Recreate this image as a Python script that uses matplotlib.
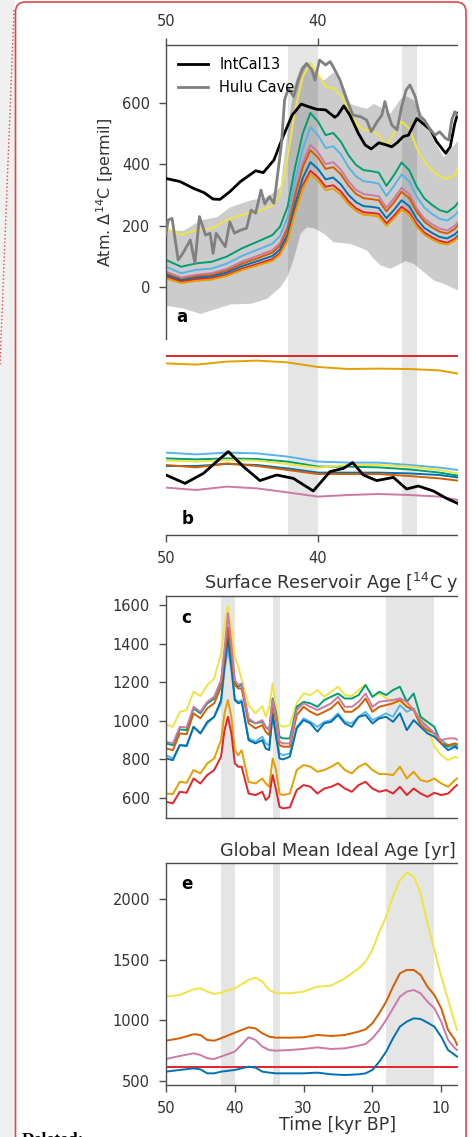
import numpy as np
import matplotlib
matplotlib.use('Agg')
import matplotlib.pyplot as plt
from matplotlib.patches import Rectangle, FancyBboxPatch
from matplotlib.lines import Line2D
from matplotlib.transforms import IdentityTransform

## couleurs des experiences

C_YEL = '#f0e442'
C_GRN = '#009e73'
C_SKY = '#56b4e9'
C_PNK = '#cc79a7'
C_VER = '#d55e00'
C_BLU = '#0072b2'
C_RED = '#e3242b'
C_ORA = '#e69f00'

# periodes grisees (kyr BP)
bands_ab = [(42, 40), (34.5, 33.5)]
bands_ce = [(42, 40), (34.5, 33.5), (18, 11)]

#################################################################################
#
#  panneau a : Delta14C atmospherique

x_intcal = [50.0, 49.08, 48.2, 47.5, 46.9, 46.45, 45.8, 45.1, 44.1, 43.6, 42.9, 42.3, 41.7, 41.1,
            40.6, 40.1, 39.5, 38.9, 38.7, 38.3, 37.9, 37.35, 36.9, 36.5, 36.0, 35.5, 35.15, 34.8,
            34.4, 34.05, 33.5, 33.1, 32.6, 32.2, 31.6, 31.3, 31.0, 30.8]
intcal = [353, 343, 321, 307, 286, 285, 310, 343, 378, 372, 413, 489, 559, 595,
          586, 578, 576, 552, 559, 589, 559, 500, 462, 449, 469, 462, 456, 469,
          489, 494, 548, 532, 511, 473, 435, 456, 532, 565]

x_hulu = [50.0, 49.85, 49.6, 49.2, 48.9, 48.4, 48.1, 47.8, 47.4, 47.1, 46.9, 46.7, 46.4, 46.1,
          45.8, 45.5, 45.1, 44.7, 44.4, 44.1, 43.75, 43.5, 43.2, 42.9, 42.7, 42.4, 42.2, 41.95,
          41.6, 41.3, 41.0, 40.75, 40.4, 40.2, 39.9, 39.5, 39.2, 39.0, 38.55, 38.1, 37.7, 37.2,
          36.8, 36.5, 36.1, 35.8, 35.6, 35.4, 35.15, 34.8, 34.5, 34.2, 33.95, 33.6, 33.3, 33.0,
          32.6, 32.3, 32.0, 31.6, 31.4, 31.2, 31.0, 30.8]
hulu = [175, 218, 223, 88, 109, 153, 77, 229, 169, 175, 109, 175, 153, 131,
        212, 175, 185, 191, 250, 240, 315, 270, 294, 272, 348, 467, 608, 646,
        619, 673, 711, 727, 706, 673, 738, 722, 733, 716, 673, 608, 559, 554,
        543, 505, 538, 559, 603, 565, 527, 511, 586, 641, 657, 619, 554, 543,
        511, 494, 505, 483, 478, 543, 570, 559]

x_env = [50.0, 48.86, 47.76, 46.67, 45.79, 44.47, 43.38, 42.5, 42.06, 41.62, 41.18, 40.75, 40.31,
         39.65, 38.99, 38.33, 37.89, 37.24, 36.8, 36.36, 35.92, 35.26, 34.61, 34.28, 33.73,
         33.07, 32.41, 31.75, 30.81]
env_hi = [185, 185, 218, 229, 261, 283, 294, 326, 500, 651, 716, 733, 706,
          673, 700, 651, 597, 586, 581, 597, 586, 565, 613, 624, 608,
          554, 478, 424, 478]
env_lo = [-59, -69, -86, -69, -55, -53, -37, 1, 34, 93, 175, 196, 193,
          175, 147, 144, 142, 129, 120, 93, 72, 61, 77, 86, 77,
          50, 23, 12, -10]

x_a = [50, 49, 48, 47, 46, 45, 44, 43, 42.5, 42, 41.5, 41, 40.5, 40, 39.5, 39, 38.5, 38,
       37.5, 37, 36.5, 36, 35.5, 35, 34.5, 34, 33.5, 33, 32.5, 32, 31.5, 31, 30.8]
a_yel = [191, 169, 185, 191, 218, 235, 245, 265, 300, 424, 576, 684, 729, 690, 651, 646, 624, 576,
         532, 511, 511, 494, 460, 500, 538, 516, 451, 408, 380, 359, 351, 364, 386]
a_grn = [88, 66, 77, 82, 99, 126, 147, 169, 196, 261, 391, 500, 566, 538, 494, 501, 473, 429,
         397, 380, 377, 372, 329, 364, 405, 380, 326, 288, 267, 250, 243, 261, 274]
a_sky = [66, 45, 56, 60, 76, 101, 121, 141, 166, 227, 347, 450, 520, 494, 452, 458, 432, 390,
         360, 344, 341, 336, 296, 329, 366, 343, 294, 258, 238, 222, 216, 233, 245]
a_pnk = [50, 31, 40, 45, 59, 83, 101, 120, 143, 199, 311, 405, 462, 438, 400, 406, 382, 344,
         316, 302, 299, 295, 258, 288, 323, 302, 255, 222, 204, 190, 184, 199, 210]
a_ver = [44, 25, 35, 39, 53, 76, 93, 112, 134, 189, 298, 390, 445, 421, 384, 390, 367, 330,
         303, 289, 286, 282, 246, 275, 310, 289, 244, 212, 194, 180, 174, 189, 200]
a_blu = [39, 22, 30, 34, 47, 68, 84, 101, 122, 171, 271, 355, 406, 384, 350, 356, 334, 300,
         276, 263, 261, 257, 224, 251, 282, 263, 221, 192, 176, 163, 158, 171, 181]
a_red = [33, 17, 25, 28, 40, 60, 75, 91, 111, 157, 251, 330, 378, 357, 326, 331, 311, 279,
         256, 243, 241, 238, 207, 232, 261, 243, 204, 177, 162, 150, 144, 157, 167]
a_ora = [28, 13, 20, 24, 36, 55, 70, 85, 105, 151, 242, 320, 366, 346, 315, 320, 300, 269,
         247, 235, 233, 229, 199, 223, 252, 235, 196, 170, 155, 143, 138, 151, 160]

#################################################################################
#
#  panneau b

x_b = [50, 48, 46, 44, 42, 40, 38, 36, 34, 32, 30.8]
b_red = 89.7
b_ora = [85.8, 85.2, 86.7, 87.2, 86.3, 84.0, 83.0, 83.2, 83.0, 82.3, 80.7]
b_sky = [41.2, 40.3, 41.2, 40.8, 39.2, 36.7, 36.2, 36.2, 35.0, 33.7, 32.5]
b_grn = [38.3, 37.8, 38.3, 38.0, 36.7, 34.2, 34.2, 33.8, 32.8, 31.2, 29.7]
b_yel = [37.2, 36.7, 37.5, 37.2, 35.5, 33.7, 35.0, 35.0, 34.2, 32.5, 30.8]
b_blu = [34.5, 34.5, 35.5, 35.0, 33.3, 31.2, 31.2, 31.2, 30.8, 30.0, 28.8]
b_ver = [35.0, 33.8, 35.8, 34.5, 32.5, 30.5, 30.5, 30.5, 29.5, 28.3, 27.2]
b_pnk = [23.7, 22.5, 24.2, 23.3, 21.3, 19.2, 20.0, 20.5, 20.0, 19.2, 17.5]

x_b_black = [50, 48.75, 47.54, 46.67, 45.9, 44.91, 43.82, 42.72, 41.62, 40.31, 39.21, 38.33,
             37.72, 37.02, 36.14, 35.04, 34.17, 33.4, 32.41, 31.54, 30.81]
b_black = [30, 25.8, 30.8, 36.7, 41.7, 34.2, 27.2, 30, 28.3, 22, 31.7, 33.3,
           36.2, 30, 27.2, 28.8, 23, 24.5, 22, 18.3, 15.8]

#################################################################################
#
#  panneau c : age reservoir de surface

x_c = [50, 49, 48, 47, 46, 45, 44, 43, 42, 41.5, 41, 40.5, 40, 39.5, 39, 38, 37, 36,
       35.5, 35, 34.5, 34, 33.5, 33, 32, 31, 30, 29, 28, 27, 26, 25, 24, 23, 22, 21, 20,
       19, 18, 17, 16, 15, 14, 13, 12, 11, 10, 9, 8, 7.7]
c_yel = [982, 968, 1046, 1055, 1150, 1128, 1185, 1219, 1349, 1505, 1595, 1487, 1332, 1280, 1211,
         1081, 1038, 1076, 1020, 1072, 1193, 1072, 977, 968, 977, 1090, 1141, 1133, 1159, 1124,
         1150, 1176, 1133, 1128, 1159, 1188, 1124, 1141, 1116, 1098, 1098, 1081, 1055, 1020,
         968, 865, 821, 795, 813, 808]
c_pnk = [891, 882, 968, 965, 1072, 1046, 1098, 1124, 1211, 1366, 1557, 1401, 1211, 1185, 1193,
         1012, 986, 1003, 968, 951, 1107, 1020, 891, 882, 882, 1055, 1090, 1072, 1055, 1072,
         1090, 1124, 1072, 1072, 1098, 1141, 1072, 1098, 1103, 1107, 1116, 1098, 1055, 1003,
         968, 934, 899, 908, 908, 903]
c_grn = [882, 873, 955, 951, 1064, 1038, 1090, 1115, 1202, 1349, 1479, 1349, 1202, 1176, 1185,
         1003, 986, 994, 968, 951, 1115, 1038, 917, 908, 908, 1072, 1098, 1090, 1072, 1107,
         1124, 1141, 1115, 1115, 1133, 1185, 1124, 1150, 1133, 1159, 1176, 1098, 1141, 1020,
         994, 968, 882, 865, 873, 865]
c_ver = [856, 847, 934, 930, 1038, 1012, 1064, 1090, 1176, 1332, 1484, 1349, 1185, 1167, 1167,
         986, 960, 977, 942, 925, 1090, 994, 873, 865, 865, 1029, 1072, 1046, 1029, 1046,
         1064, 1098, 1046, 1046, 1072, 1115, 1046, 1072, 1081, 1090, 1107, 1072, 1055, 977,
         951, 934, 882, 873, 882, 878]
c_sky = [821, 804, 873, 873, 968, 934, 986, 1020, 1090, 1263, 1375, 1263, 1115, 1098, 1107,
         908, 891, 917, 882, 873, 1020, 917, 830, 821, 830, 968, 1012, 994, 968, 994,
         1003, 1038, 994, 986, 1020, 1046, 1003, 1020, 1038, 1020, 1081, 1046, 1064, 986,
         968, 934, 899, 873, 865, 861]
c_blu = [804, 795, 873, 868, 968, 934, 994, 1020, 1107, 1280, 1427, 1280, 1107, 1090, 1098,
         899, 882, 899, 856, 847, 1038, 917, 804, 799, 813, 960, 1003, 986, 943, 986,
         994, 1029, 986, 968, 1020, 1029, 986, 1012, 1020, 994, 1038, 951, 1003, 968,
         934, 917, 882, 847, 865, 856]
c_ora = [622, 619, 683, 678, 744, 726, 778, 804, 899, 1038, 1107, 1020, 847, 821, 847,
         683, 674, 700, 674, 657, 804, 744, 622, 614, 622, 744, 770, 761, 735, 744,
         761, 782, 744, 726, 761, 778, 744, 723, 723, 718, 761, 700, 735, 692, 683,
         700, 674, 657, 692, 700]
c_red = [579, 571, 631, 626, 700, 674, 718, 744, 813, 951, 1020, 934, 778, 761, 761,
         622, 614, 631, 588, 605, 718, 640, 553, 545, 550, 640, 666, 657, 622, 648,
         657, 674, 648, 631, 666, 683, 648, 631, 640, 622, 657, 614, 648, 622, 605,
         626, 614, 622, 657, 666]

#################################################################################
#
#  panneau e : age ideal moyen

x_e = [50, 48, 46, 45, 44, 43, 42, 40, 38, 37, 36, 35, 34, 32, 30, 28, 26, 24, 22, 21, 20,
       19, 18, 17, 16, 15, 14, 13, 12, 11, 10, 9, 8, 7.7]
e_yel = [1195, 1209, 1255, 1264, 1236, 1217, 1228, 1264, 1332, 1352, 1319, 1250, 1223, 1223,
         1236, 1277, 1286, 1346, 1428, 1483, 1580, 1731, 1854, 2019, 2156, 2217, 2184, 2047,
         1799, 1580, 1360, 1168, 975, 920]
e_ver = [832, 852, 885, 879, 838, 832, 852, 898, 942, 934, 893, 865, 857, 857, 860, 879, 871,
         879, 907, 926, 975, 1058, 1154, 1277, 1387, 1415, 1415, 1374, 1277, 1209, 1099, 920,
         838, 797]
e_pnk = [681, 706, 728, 714, 687, 681, 701, 742, 860, 838, 783, 755, 750, 755, 764, 777, 764,
         769, 791, 805, 852, 920, 1003, 1099, 1195, 1236, 1250, 1222, 1154, 1099, 989, 838,
         769, 755]
e_blu = [577, 591, 604, 596, 563, 563, 577, 591, 618, 610, 577, 569, 563, 563, 563, 569, 555,
         549, 555, 563, 591, 659, 742, 852, 948, 989, 1016, 1011, 981, 948, 865, 755, 714, 701]
e_red = 612

#################################################################################
#
# mise en page

W, H = 472, 1137
fig = plt.figure(figsize=(W / 100, H / 100), dpi=100)
fig.patch.set_facecolor('white')

LEFT = 166 / W
WIDTH = 344 / W
SPINE = '0.3'
LW = 1.4

def pos(top_px, bot_px):
    return [LEFT, 1 - bot_px / H, WIDTH, (bot_px - top_px) / H]

def style(ax):
    for s in ax.spines.values():
        s.set_color(SPINE)
        s.set_linewidth(1.0)
    ax.tick_params(direction='out', length=5, width=1, color=SPINE, pad=6.5,
                   labelsize=10.5, labelcolor='0.2')
    ax.set_facecolor('none')

def bandes(ax, bands):
    for b0, b1 in bands:
        ax.axvspan(b1, b0, color='k', alpha=0.1, lw=0, zorder=0)

def lettre(ax, txt, x, y):
    ax.text(x, y, txt, transform=ax.transAxes, fontsize=12, fontweight='bold',
            ha='left', va='center')

ax_a = fig.add_axes(pos(45, 339))
ax_b = fig.add_axes(pos(339, 535))
ax_c = fig.add_axes(pos(596, 818))
ax_e = fig.add_axes(pos(863, 1085))

# --- a
style(ax_a)
bandes(ax_a, bands_ab)
ax_a.fill_between(x_env, env_lo, env_hi, color='k', alpha=0.2, lw=0, zorder=1)
for y, c in [(a_yel, C_YEL), (a_grn, C_GRN), (a_sky, C_SKY), (a_pnk, C_PNK),
             (a_ver, C_VER), (a_blu, C_BLU), (a_red, C_RED), (a_ora, C_ORA)]:
    ax_a.plot(x_a, y, color=c, lw=LW, zorder=2)
ax_a.plot(x_intcal, intcal, color='k', lw=2, zorder=3, label='IntCal13')
ax_a.plot(x_hulu, hulu, color='#808080', lw=2, zorder=3, label='Hulu Cave')
ax_a.set_xlim(50, 50 - 344 / 15.2)
ax_a.set_ylim(-169, 787)
ax_a.xaxis.tick_top()
ax_a.set_xticks([50, 40])
ax_a.set_yticks([0, 200, 400, 600])
ax_a.spines['bottom'].set_visible(False)
ax_a.spines['right'].set_visible(False)
ax_a.set_ylabel('Atm. $\\Delta^{14}$C [permil]', fontsize=11.5, color='0.2', labelpad=4)
ax_a.legend(loc='upper left', frameon=False, fontsize=10.5, handlelength=2.0,
            borderaxespad=0.45, labelspacing=0.5, bbox_to_anchor=(0.0, 1.0))
lettre(ax_a, 'a', 0.03, 0.075)

# --- b
style(ax_b)
bandes(ax_b, bands_ab)
ax_b.axhline(b_red, color=C_RED, lw=LW)
for y, c in [(b_ora, C_ORA), (b_sky, C_SKY), (b_grn, C_GRN), (b_yel, C_YEL),
             (b_blu, C_BLU), (b_ver, C_VER), (b_pnk, C_PNK)]:
    ax_b.plot(x_b, y, color=c, lw=LW, zorder=2)
ax_b.plot(x_b_black, b_black, color='k', lw=2, zorder=3)
ax_b.set_xlim(50, 50 - 344 / 15.2)
ax_b.set_ylim(0, 98)
ax_b.set_xticks([50, 40])
ax_b.set_yticks([])
for s in ['left', 'top', 'right']:
    ax_b.spines[s].set_visible(False)
lettre(ax_b, 'b', 0.045, 0.082)

# --- c
style(ax_c)
bandes(ax_c, bands_ce)
for y, c in [(c_yel, C_YEL), (c_grn, C_GRN), (c_sky, C_SKY), (c_blu, C_BLU),
             (c_ver, C_VER), (c_pnk, C_PNK), (c_ora, C_ORA), (c_red, C_RED)]:
    ax_c.plot(x_c, y, color=c, lw=LW, zorder=2)
ax_c.set_xlim(50, 0)
ax_c.set_ylim(495, 1647)
ax_c.set_xticks([])
ax_c.set_yticks([600, 800, 1000, 1200, 1400, 1600])
ax_c.set_title('Surface Reservoir Age [$^{14}$C yr]', fontsize=12.7, color='0.2', pad=5)
lettre(ax_c, 'c', 0.045, 0.90)

# --- e
style(ax_e)
bandes(ax_e, bands_ce)
ax_e.axhline(e_red, color=C_RED, lw=LW)
for y, c in [(e_yel, C_YEL), (e_ver, C_VER), (e_pnk, C_PNK), (e_blu, C_BLU)]:
    ax_e.plot(x_e, y, color=c, lw=LW, zorder=2)
ax_e.set_xlim(50, 0)
ax_e.set_ylim(467, 2296)
ax_e.set_xticks([50, 40, 30, 20, 10])
ax_e.set_yticks([500, 1000, 1500, 2000])
ax_e.set_title('Global Mean Ideal Age [yr]', fontsize=12.7, color='0.2', pad=5)
ax_e.set_xlabel('Time [kyr BP]', fontsize=12.5, color='0.2', labelpad=0)
lettre(ax_e, 'e', 0.045, 0.905)

#################################################################################
#
# cadre de la page

px = IdentityTransform()
fig.add_artist(Rectangle((458, 0), W - 458, H, transform=px, facecolor='white',
                         edgecolor='none', zorder=5))
fig.add_artist(Rectangle((0, 0), 15, H, transform=px, facecolor='#f0f0f0',
                         edgecolor='none', zorder=5))
fig.add_artist(FancyBboxPatch((15.5, -30), 450.5, H - 2 + 30, transform=px,
                              boxstyle='round,pad=0,rounding_size=10',
                              facecolor='none', edgecolor='#e0474c', lw=1.2, zorder=6))
fig.add_artist(Line2D([14, 0], [H - 10, H - 365], transform=px, color='#e0474c',
                      lw=1.0, ls=':', zorder=6))
fig.text(22 / W, 1 - 1144 / H, 'Deleted:', fontsize=12.5, fontweight='bold',
         family='Liberation Serif', va='baseline', ha='left', zorder=6)

fig.savefig('out.png', dpi=100)
